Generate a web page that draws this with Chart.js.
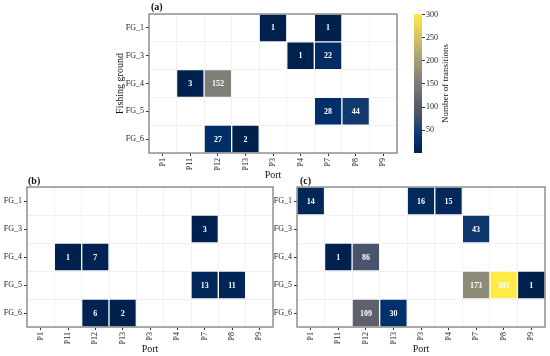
<!DOCTYPE html>
<html>
<head>
<meta charset="utf-8">
<script src="https://cdn.jsdelivr.net/npm/chart.js@4/dist/chart.umd.min.js"></script>
<style>
html, body { margin: 0; padding: 0; background: #fff; }
body { width: 550px; height: 356px; position: relative; overflow: hidden; }
canvas { position: absolute; display: block; }
</style>
</head>
<body>
<canvas id="chartA" width="300" height="182" style="left:100px;top:0px"></canvas>
<canvas id="colorbar" width="60" height="182" style="left:400px;top:0px"></canvas>
<canvas id="chartB" width="276" height="186" style="left:0px;top:170px"></canvas>
<canvas id="chartC" width="280" height="186" style="left:270px;top:170px"></canvas>
<script>
var ports = ['P1', 'P11', 'P12', 'P13', 'P3', 'P4', 'P7', 'P8', 'P9'];
var grounds = ['FG_1', 'FG_3', 'FG_4', 'FG_5', 'FG_6'];

// rows follow grounds, columns follow ports
var valuesA = [
    [null, null, null, null, 1, null, 1, null, null],
    [null, null, null, null, null, 1, 22, null, null],
    [null, 3, 152, null, null, null, null, null, null],
    [null, null, null, null, null, null, 28, 44, null],
    [null, null, 27, 2, null, null, null, null, null]
];
var valuesB = [
    [null, null, null, null, null, null, null, null, null],
    [null, null, null, null, null, null, 3, null, null],
    [null, 1, 7, null, null, null, null, null, null],
    [null, null, null, null, null, null, 13, 11, null],
    [null, null, 6, 2, null, null, null, null, null]
];
var valuesC = [
    [14, null, null, null, 16, 15, null, null, null],
    [null, null, null, null, null, null, 43, null, null],
    [null, 1, 86, null, null, null, null, null, null],
    [null, null, null, null, null, null, 173, 301, 1],
    [null, null, 109, 30, null, null, null, null, null]
];

var colorTicks = [50, 100, 150, 200, 250, 300];
var colorMin = 1;
var colorMax = 301;
var cividisStops = ['#00204D', '#00336F', '#39486B', '#575C6D', '#707173', '#8A8779', '#A69D75', '#C4B56C', '#E4CF5B', '#FFEA46'];

var serif = '"Liberation Serif", "DejaVu Serif", serif';

function hexToRgb(h) {
    return [parseInt(h.substr(1, 2), 16), parseInt(h.substr(3, 2), 16), parseInt(h.substr(5, 2), 16)];
}

function cividisAt(t) {
    t = Math.min(1, Math.max(0, t));
    var pos = t * (cividisStops.length - 1);
    var i = Math.min(Math.floor(pos), cividisStops.length - 2);
    var f = pos - i;
    var a = hexToRgb(cividisStops[i]), b = hexToRgb(cividisStops[i + 1]);
    return 'rgb(' + Math.round(a[0] + (b[0] - a[0]) * f) + ',' +
        Math.round(a[1] + (b[1] - a[1]) * f) + ',' +
        Math.round(a[2] + (b[2] - a[2]) * f) + ')';
}

function cividis(v) {
    return cividisAt((v - colorMin) / (colorMax - colorMin));
}

// outline of the panel, its letter and the numbers in the cells
var panelFrame = {
    id: 'panelFrame',
    afterDatasetsDraw: function(chart) {
        var ctx = chart.ctx;
        ctx.save();
        ctx.fillStyle = '#fff';
        ctx.font = 'bold 8px ' + serif;
        ctx.textAlign = 'center';
        ctx.textBaseline = 'middle';
        chart.data.datasets.forEach(function(ds, i) {
            var meta = chart.getDatasetMeta(i);
            meta.data.forEach(function(bar, j) {
                var v = ds.counts[j];
                if (v === null) return;
                ctx.fillText(String(v), bar.x, (bar.y + bar.base) / 2 + 0.5);
            });
        });
        ctx.restore();
    },
    afterDraw: function(chart, args, opts) {
        var a = chart.chartArea;
        var ctx = chart.ctx;
        ctx.save();
        ctx.strokeStyle = '#777';
        ctx.lineWidth = 1.2;
        ctx.strokeRect(a.left, a.top, a.right - a.left, a.bottom - a.top);
        ctx.fillStyle = '#111';
        ctx.font = 'bold 10px ' + serif;
        ctx.textAlign = 'left';
        ctx.textBaseline = 'middle';
        ctx.fillText(opts.text, a.left + opts.dx, a.top - opts.dy);
        ctx.restore();
    }
};

function drawHeatmap(id, values, letter, lay) {
    var datasets = values.map(function(row, r) {
        return {
            label: grounds[r],
            counts: row,
            data: row.map(function(v) { return v === null ? null : [r + 0.5, r + 1.5]; }),
            backgroundColor: function(ctx) {
                var v = row[ctx.dataIndex];
                return v === null ? 'rgba(0,0,0,0)' : cividis(v);
            },
            borderColor: 'rgba(255,255,255,0.55)',
            borderWidth: 1,
            borderSkipped: false,
            grouped: false,
            barPercentage: 1,
            categoryPercentage: 1
        };
    });

    var rowTicks = function(scale) {
        scale.ticks = grounds.map(function(g, i) { return { value: i + 1 }; });
    };

    return new Chart(document.getElementById(id), {
        type: 'bar',
        data: { labels: ports, datasets: datasets },
        plugins: [panelFrame],
        options: {
            responsive: false,
            animation: false,
            events: [],
            layout: { padding: { top: lay.top, right: lay.right, left: 0, bottom: 0 } },
            plugins: {
                legend: { display: false },
                tooltip: { enabled: false },
                panelFrame: { text: letter, dx: lay.letterDx, dy: lay.letterDy }
            },
            scales: {
                x: {
                    type: 'category',
                    offset: true,
                    grid: { drawOnChartArea: false, offset: false, tickLength: 3, color: '#333' },
                    border: { display: false },
                    ticks: {
                        autoSkip: false, minRotation: 90, maxRotation: 90, padding: 2,
                        color: '#222', font: { family: serif, size: 8 }
                    },
                    title: {
                        display: true, text: 'Port', color: '#111',
                        font: { family: serif, size: 10 }, padding: { top: 0, bottom: 1 }
                    },
                    afterFit: function(s) { s.height = lay.xHeight; s.paddingLeft = 0; s.paddingRight = 0; }
                },
                xg: {
                    type: 'category',
                    position: 'top',
                    offset: true,
                    grid: { offset: true, color: '#ebebeb', lineWidth: 0.7, drawTicks: false },
                    border: { display: false },
                    ticks: { display: false }
                },
                y: {
                    type: 'linear',
                    min: 0.5,
                    max: 5.5,
                    reverse: true,
                    afterBuildTicks: rowTicks,
                    grid: { drawOnChartArea: false, tickLength: 3, color: '#333' },
                    border: { display: false },
                    ticks: {
                        padding: 2, color: '#222', font: { family: serif, size: 8 },
                        callback: function(v) { return grounds[v - 1]; }
                    },
                    title: {
                        display: !!lay.yTitle, text: lay.yTitle || '', color: '#111',
                        font: { family: serif, size: 10 }, padding: { top: 14, bottom: 0 }
                    },
                    afterFit: function(s) { s.width = lay.yWidth; s.paddingTop = 0; s.paddingBottom = 0; }
                },
                yg: {
                    type: 'linear',
                    position: 'right',
                    min: 0.5,
                    max: 5.5,
                    reverse: true,
                    afterBuildTicks: rowTicks,
                    grid: { offset: true, color: '#ebebeb', lineWidth: 0.7, drawTicks: false },
                    border: { display: false },
                    ticks: { display: false },
                    afterFit: function(s) { s.width = 0; s.paddingTop = 0; s.paddingBottom = 0; }
                }
            }
        }
    });
}

drawHeatmap('chartA', valuesA, '(a)', { top: 14, right: 3, yWidth: 49, xHeight: 29, yTitle: 'Fishing ground', letterDx: 2, letterDy: 7 });
drawHeatmap('chartB', valuesB, '(b)', { top: 17, right: 3, yWidth: 27, xHeight: 29, letterDx: 1, letterDy: 6 });
drawHeatmap('chartC', valuesC, '(c)', { top: 17, right: 5, yWidth: 27, xHeight: 29, letterDx: 3, letterDy: 6 });

// colour bar for the shared scale
var barTitle = {
    id: 'barTitle',
    afterDraw: function(chart) {
        var a = chart.chartArea;
        var ctx = chart.ctx;
        ctx.save();
        ctx.translate(46, (a.top + a.bottom) / 2);
        ctx.rotate(-Math.PI / 2);
        ctx.fillStyle = '#111';
        ctx.font = '9px ' + serif;
        ctx.textAlign = 'center';
        ctx.textBaseline = 'middle';
        ctx.fillText('Number of transitions', 0, 0);
        ctx.restore();
    }
};

new Chart(document.getElementById('colorbar'), {
    type: 'bar',
    data: {
        labels: [''],
        datasets: [{
            data: [[colorMin, colorMax]],
            backgroundColor: function(ctx) {
                var chart = ctx.chart;
                if (!chart.chartArea) return '#00204D';
                var ys = chart.scales.y;
                var g = chart.ctx.createLinearGradient(0, ys.getPixelForValue(colorMin), 0, ys.getPixelForValue(colorMax));
                for (var k = 0; k <= 20; k++) {
                    g.addColorStop(k / 20, cividisAt(k / 20));
                }
                return g;
            },
            borderWidth: 0,
            barPercentage: 1,
            categoryPercentage: 1
        }]
    },
    plugins: [barTitle],
    options: {
        responsive: false,
        animation: false,
        events: [],
        layout: { padding: { top: 14, left: 14, bottom: 29, right: 0 } },
        plugins: { legend: { display: false }, tooltip: { enabled: false } },
        scales: {
            x: { display: false },
            y: {
                position: 'right',
                min: colorMin,
                max: colorMax,
                afterBuildTicks: function(s) {
                    s.ticks = colorTicks.map(function(v) { return { value: v }; });
                },
                grid: { drawOnChartArea: false, tickLength: 3, color: '#333' },
                border: { display: false },
                ticks: { padding: 1, color: '#222', font: { family: serif, size: 8 } },
                afterFit: function(s) { s.width = 38; s.paddingTop = 0; s.paddingBottom = 0; }
            }
        }
    }
});
</script>
</body>
</html>
